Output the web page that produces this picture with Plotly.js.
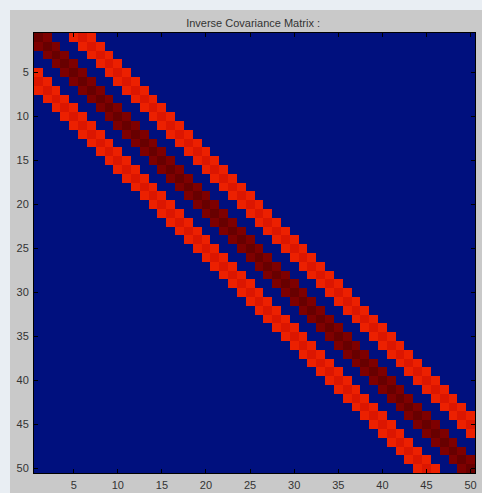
<!DOCTYPE html>
<html>
<head>
<meta charset="utf-8">
<script src="https://cdn.plot.ly/plotly-3.0.1.min.js"></script>
<style>
html,body{margin:0;padding:0;width:482px;height:493px;background:#e9eef3;overflow:hidden;}
#chart{position:absolute;left:10px;top:10px;width:472px;height:483px;}
</style>
</head>
<body>
<div id="chart"></div>
<script>
// Matrix size and banded structure
const matrixSize = 50;
const bandOffsets = [0, 1, 2, 3, 4, 5, 6];
const bandValues  = [1.0, 0.95, 0, 0, 0.8, 0.86, 0.8];
const tickValues = [5, 10, 15, 20, 25, 30, 35, 40, 45, 50];
const tickLabels = ['5', '10', '15', '20', '25', '30', '35', '40', '45', '50'];

const idx = [];
for (let i = 1; i <= matrixSize; i++) idx.push(i);
const z = [];
for (let r = 0; r < matrixSize; r++) {
  const row = [];
  for (let c = 0; c < matrixSize; c++) {
    const d = Math.abs(r - c);
    const k = bandOffsets.indexOf(d);
    row.push(k >= 0 ? bandValues[k] : 0);
  }
  z.push(row);
}

const trace = {
  type: 'heatmap',
  x: idx, y: idx, z: z,
  zmin: 0, zmax: 1,
  showscale: false,
  hoverinfo: 'skip',
  colorscale: [
    [0, '#00107e'], [0.5, '#00107e'],
    [0.8, '#ec2000'], [0.86, '#dc1600'],
    [0.95, '#7e0000'], [1, '#680000']
  ]
};

const axisCommon = {
  showline: true, linecolor: '#000', linewidth: 1, mirror: 'ticks',
  ticks: 'inside', ticklen: 4, tickcolor: '#000', tickwidth: 1,
  tickvals: tickValues, ticktext: tickLabels,
  tickfont: {family: 'Liberation Sans, Arial, sans-serif', size: 11, color: '#333'},
  showgrid: false, zeroline: false
};

const layout = {
  width: 472, height: 483,
  paper_bgcolor: '#c9c9c9', plot_bgcolor: '#00107e',
  margin: {l: 23.5, r: 7, t: 22.5, b: 20},
  title: {text: 'Inverse Covariance Matrix :', x: 0.515, xanchor: 'center', y: 0.98, yanchor: 'top',
          font: {family: 'Liberation Sans, Arial, sans-serif', size: 11, color: '#333'}},
  xaxis: Object.assign({}, axisCommon, {range: [0.5, 50.5], ticklabelstandoff: 2}),
  yaxis: Object.assign({}, axisCommon, {range: [50.5, 0.5], ticklabelstandoff: 2})
};

Plotly.newPlot('chart', [trace], layout, {displayModeBar: false, staticPlot: true});
</script>
</body>
</html>
